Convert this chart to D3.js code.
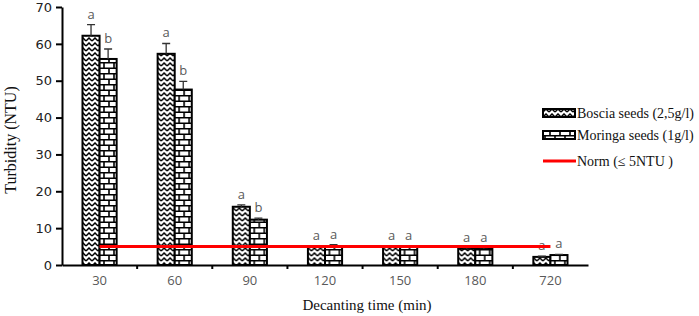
<!DOCTYPE html>
<html>
<head>
<meta charset="utf-8">
<script src="https://cdn.jsdelivr.net/npm/d3@7"></script>
<style>
  body { margin: 0; background: #fff; }
</style>
</head>
<body>
<div id="chart"></div>
<script>
// data
const times = ["30", "60", "90", "120", "150", "180", "720"];
const boscia = [62.2, 57.3, 15.8, 4.9, 4.9, 4.4, 2.2];
const bosciaErr = [3.0, 2.8, 0.5, 0.3, 0.3, 0.3, 0.2];
const moringa = [55.9, 47.6, 12.3, 4.9, 4.9, 4.4, 2.7];
const moringaErr = [2.7, 2.2, 0.4, 0.6, 0.3, 0.3, 0.2];
const bosciaLetters = ["a", "a", "a", "a", "a", "a", "a"];
const moringaLetters = ["b", "b", "b", "a", "a", "a", "a"];
const norm = 5;
const yTicks = [0, 10, 20, 30, 40, 50, 60, 70];

const W = 699, H = 316;
const margin = { top: 7, right: 111, bottom: 51, left: 62 },
      width = W - margin.left - margin.right,
      height = H - margin.top - margin.bottom;

const svg = d3.select("#chart")
  .append("svg")
  .attr("width", W)
  .attr("height", H);

const defs = svg.append("defs");

// zigzag fill (Boscia)
const zig = defs.append("pattern")
  .attr("id", "zig")
  .attr("patternUnits", "userSpaceOnUse")
  .attr("width", 6).attr("height", 5);
zig.append("rect").attr("width", 6).attr("height", 5).attr("fill", "#fff");
zig.append("path")
  .attr("d", "M0,4 L3,1 L6,4")
  .attr("fill", "none").attr("stroke", "#000").attr("stroke-width", 1.5);

// brick fill (Moringa)
const brick = defs.append("pattern")
  .attr("id", "brick")
  .attr("patternUnits", "userSpaceOnUse")
  .attr("width", 10).attr("height", 11);
brick.append("rect").attr("width", 10).attr("height", 11).attr("fill", "#fff");
brick.append("path")
  .attr("d", "M0,0.8 H10 M0,6.3 H10 M2,0 V5.5 M7,5.5 V11")
  .attr("fill", "none").attr("stroke", "#000").attr("stroke-width", 1.6);

const g = svg.append("g")
  .attr("transform", `translate(${margin.left},${margin.top})`);

// scales
const x0 = d3.scaleBand()
  .domain(times)
  .range([0, width])
  .padding(0);

const x1 = d3.scaleBand()
  .domain(["boscia", "moringa"])
  .range([0, x0.bandwidth()])
  .paddingInner(0)
  .paddingOuter(1.2);

const y = d3.scaleLinear()
  .domain([0, 70])
  .range([height, 0]);

// data rows
const rows = times.map((t, i) => ({
  t,
  bars: [
    { key: "boscia", v: boscia[i], e: bosciaErr[i], l: bosciaLetters[i], fill: "url(#zig)" },
    { key: "moringa", v: moringa[i], e: moringaErr[i], l: moringaLetters[i], fill: "url(#brick)" }
  ]
}));

// bars
const grp = g.selectAll("g.grp")
  .data(rows)
  .enter()
  .append("g")
  .attr("class", "grp")
  .attr("transform", d => `translate(${x0(d.t)},0)`);

grp.selectAll("rect")
  .data(d => d.bars)
  .enter()
  .append("rect")
  .attr("x", d => x1(d.key))
  .attr("y", d => y(d.v))
  .attr("width", x1.bandwidth())
  .attr("height", d => height - y(d.v))
  .attr("fill", d => d.fill)
  .attr("stroke", "#000")
  .attr("stroke-width", 2);

// error bars (upper only)
grp.selectAll("path.err")
  .data(d => d.bars)
  .enter()
  .append("path")
  .attr("class", "err")
  .attr("d", d => {
    const cx = x1(d.key) + x1.bandwidth() / 2;
    const top = y(d.v + d.e);
    return `M${cx},${y(d.v)} V${top} M${cx - 4},${top} H${cx + 4}`;
  })
  .attr("fill", "none")
  .attr("stroke", "#333")
  .attr("stroke-width", 1.3);

// letters
grp.selectAll("text.lt")
  .data(d => d.bars)
  .enter()
  .append("text")
  .attr("class", "lt")
  .attr("x", d => x1(d.key) + x1.bandwidth() / 2)
  .attr("y", d => y(d.v + d.e) - 6)
  .attr("text-anchor", "middle")
  .attr("font-family", "'Open Sans', sans-serif")
  .attr("font-size", 13)
  .attr("fill", "#595959")
  .text(d => d.l);

// norm line
g.append("line")
  .attr("x1", x0(times[0]) + x0.bandwidth() / 2)
  .attr("x2", x0(times[times.length - 1]) + x0.bandwidth() / 2)
  .attr("y1", y(norm))
  .attr("y2", y(norm))
  .attr("stroke", "#f00")
  .attr("stroke-width", 3);

// y axis
const yAxis = g.append("g")
  .call(d3.axisLeft(y).tickValues(yTicks).tickSize(6).tickSizeOuter(0));
yAxis.select(".domain").attr("stroke", "#000").attr("stroke-width", 2);
yAxis.selectAll(".tick line").attr("stroke", "#000").attr("stroke-width", 2);
yAxis.selectAll(".tick text")
  .attr("x", -10)
  .attr("font-family", "'DejaVu Sans', sans-serif")
  .attr("font-size", 13)
  .attr("fill", "#222");

// x axis: labels at band centers, ticks at band edges
const xAxis = g.append("g")
  .attr("transform", `translate(0,${height})`)
  .call(d3.axisBottom(x0).tickSize(0).tickPadding(11));
xAxis.select(".domain").attr("stroke", "#000").attr("stroke-width", 2);
xAxis.selectAll(".tick text")
  .attr("font-family", "'Open Sans', sans-serif")
  .attr("font-size", 13)
  .attr("fill", "#595959");
xAxis.selectAll("line.edge")
  .data(times.slice(1))
  .enter()
  .append("line")
  .attr("class", "edge")
  .attr("x1", d => x0(d)).attr("x2", d => x0(d))
  .attr("y1", 0).attr("y2", 4)
  .attr("stroke", "#000").attr("stroke-width", 2);

// axis titles
svg.append("text")
  .attr("x", margin.left + width / 2 + 42)
  .attr("y", 310)
  .attr("text-anchor", "middle")
  .attr("font-family", "'Liberation Serif', serif")
  .attr("font-size", 15)
  .attr("fill", "#111")
  .text("Decanting time (min)");

svg.append("text")
  .attr("transform", `translate(16,${margin.top + height / 2 + 4}) rotate(-90)`)
  .attr("text-anchor", "middle")
  .attr("font-family", "'Liberation Serif', serif")
  .attr("font-size", 16)
  .attr("fill", "#111")
  .text("Turbidity (NTU)");

// legend
const legendItems = [
  { label: "Boscia seeds (2,5g/l)", fill: "url(#zig)" },
  { label: "Moringa seeds (1g/l)", fill: "url(#brick)" },
  { label: "Norm (\u2264 5NTU )", line: true }
];
const legend = svg.append("g").attr("transform", "translate(543,113)");
const li = legend.selectAll("g")
  .data(legendItems)
  .enter()
  .append("g")
  .attr("transform", (d, i) => `translate(0,${i === 2 ? 48 : i * 22})`);
li.filter(d => !d.line).append("rect")
  .attr("x", 0).attr("y", -4)
  .attr("width", 32).attr("height", 8)
  .attr("fill", d => d.fill)
  .attr("stroke", "#000").attr("stroke-width", 2);
li.filter(d => d.line).append("line")
  .attr("x1", 0).attr("x2", 33)
  .attr("y1", 0).attr("y2", 0)
  .attr("stroke", "#f00").attr("stroke-width", 3);
li.append("text")
  .attr("x", 34)
  .attr("y", 5)
  .attr("font-family", "'Liberation Serif', serif")
  .attr("font-size", 14)
  .attr("fill", "#111")
  .text(d => d.label);
</script>
</body>
</html>
